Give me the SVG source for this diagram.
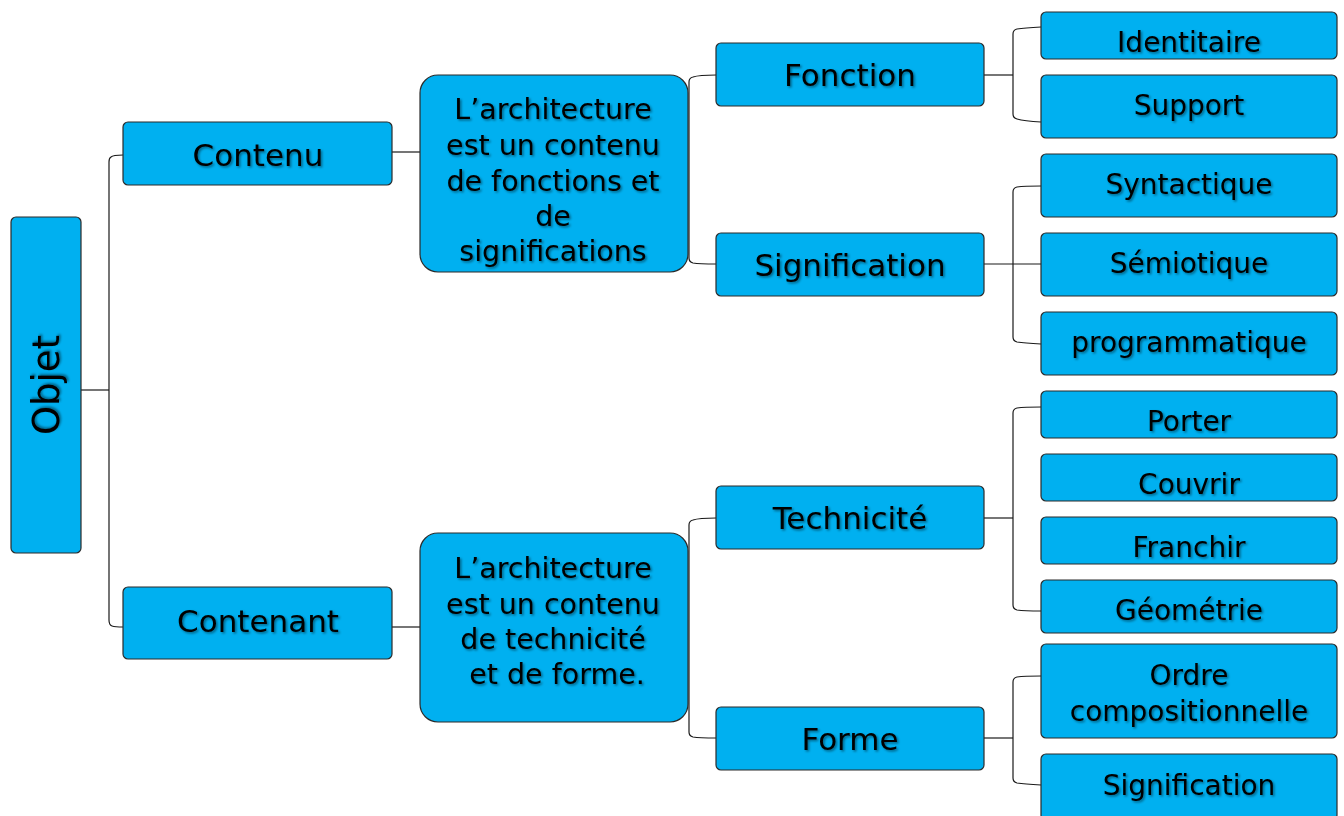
<svg xmlns="http://www.w3.org/2000/svg" width="1344" height="816" viewBox="0 0 1344 816">
<style>
.n{fill:#00B0F0;stroke:#2b2b2b;stroke-width:1.2}
.t{font-family:"DejaVu Sans","Liberation Sans",sans-serif;font-size:28px;fill:#000;text-anchor:middle;filter:url(#sh)}
.m{font-size:31px}
.b{font-size:28.5px}
.c{fill:none;stroke:#1a1a1a;stroke-width:1.2}
</style>
<defs>
<filter id="sh" x="-10%" y="-30%" width="120%" height="160%">
<feDropShadow dx="1.5" dy="1.5" stdDeviation="1.2" flood-color="#000" flood-opacity="0.45"/>
</filter>
</defs>
<rect width="1344" height="816" fill="#fff"/>
<g id="connectors">
<path class="c" d="M81,390 H109"/>
<path class="c" d="M123,155 Q113,155 111,157 Q109,158 109,162 V620 Q109,625 112,626 Q115,627 123,627"/>
<path class="c" d="M392,152 H420"/>
<path class="c" d="M392,627 H420"/>
<path class="c" d="M716,75 Q699,75 693,77 Q689,78 689,82 V258 Q689,262 693,263 Q699,264 716,264"/>
<path class="c" d="M716,518 Q699,518 693,520 Q689,521 689,525 V732 Q689,736 693,737 Q699,738 716,738"/>
<path class="c" d="M984,75 H1013"/>
<path class="c" d="M1041,27 Q1024,28 1017,29 Q1013,30 1013,34 V114 Q1013,118 1017,119 Q1024,121 1041,122"/>
<path class="c" d="M984,264 H1041"/>
<path class="c" d="M1041,186 Q1024,186 1017,187 Q1013,188 1013,192 V337 Q1013,341 1017,342 Q1024,343 1041,344"/>
<path class="c" d="M984,518 H1013"/>
<path class="c" d="M1041,407 Q1024,407 1017,408 Q1013,409 1013,413 V605 Q1013,609 1017,610 Q1024,611 1041,611"/>
<path class="c" d="M984,738 H1013"/>
<path class="c" d="M1041,676 Q1024,676 1017,677 Q1013,678 1013,682 V778 Q1013,782 1017,783 Q1024,784 1041,785"/>
</g>
<g id="objet"><rect class="n" x="11" y="217" width="70" height="336" rx="5"/><text class="t" style="font-size:37px" transform="translate(59,385) rotate(-90)">Objet</text></g>
<g id="contenu"><rect class="n" x="123" y="122" width="269" height="63" rx="5"/><text class="t m" x="258" y="166">Contenu</text></g>
<g id="contenant"><rect class="n" x="123" y="587" width="269" height="72" rx="5"/><text class="t m" x="258" y="632">Contenant</text></g>
<g id="archi1"><rect class="n" x="420" y="75" width="268" height="197" rx="18"/>
<text class="t b" x="553" y="119">L’architecture</text>
<text class="t b" x="553" y="155">est un contenu</text>
<text class="t b" x="553" y="191">de fonctions et</text>
<text class="t b" x="553" y="226">de</text>
<text class="t b" x="553" y="261">significations</text></g>
<g id="archi2"><rect class="n" x="420" y="533" width="268" height="189" rx="18"/>
<text class="t b" x="553" y="578">L’architecture</text>
<text class="t b" x="553" y="614">est un contenu</text>
<text class="t b" x="553" y="649">de technicité</text>
<text class="t b" x="557" y="684">et de forme.</text></g>
<g id="fonction"><rect class="n" x="716" y="43" width="268" height="63" rx="5"/><text class="t m" x="850" y="86">Fonction</text></g>
<g id="signification1"><rect class="n" x="716" y="233" width="268" height="63" rx="5"/><text class="t m" x="850" y="276">Signification</text></g>
<g id="technicite"><rect class="n" x="716" y="486" width="268" height="63" rx="5"/><text class="t m" x="850" y="529">Technicité</text></g>
<g id="forme"><rect class="n" x="716" y="707" width="268" height="63" rx="5"/><text class="t m" x="850" y="750">Forme</text></g>
<g id="identitaire"><rect class="n" x="1041" y="12" width="296" height="47" rx="5"/><text class="t" x="1189" y="52">Identitaire</text></g>
<g id="support"><rect class="n" x="1041" y="75" width="296" height="63" rx="5"/><text class="t" x="1189" y="115">Support</text></g>
<g id="syntactique"><rect class="n" x="1041" y="154" width="296" height="63" rx="5"/><text class="t" x="1189" y="194">Syntactique</text></g>
<g id="semiotique"><rect class="n" x="1041" y="233" width="296" height="63" rx="5"/><text class="t" x="1189" y="273">Sémiotique</text></g>
<g id="programmatique"><rect class="n" x="1041" y="312" width="296" height="63" rx="5"/><text class="t" x="1189" y="352">programmatique</text></g>
<g id="porter"><rect class="n" x="1041" y="391" width="296" height="47" rx="5"/><text class="t" x="1189" y="431">Porter</text></g>
<g id="couvrir"><rect class="n" x="1041" y="454" width="296" height="47" rx="5"/><text class="t" x="1189" y="494">Couvrir</text></g>
<g id="franchir"><rect class="n" x="1041" y="517" width="296" height="47" rx="5"/><text class="t" x="1189" y="557">Franchir</text></g>
<g id="geometrie"><rect class="n" x="1041" y="580" width="296" height="53" rx="5"/><text class="t" x="1189" y="620">Géométrie</text></g>
<g id="ordre"><rect class="n" x="1041" y="644" width="296" height="94" rx="5"/><text class="t" x="1189" y="685">Ordre</text><text class="t" x="1189" y="721">compositionnelle</text></g>
<g id="signification2"><rect class="n" x="1041" y="754" width="296" height="66" rx="5"/><text class="t" x="1189" y="795">Signification</text></g>
</svg>
